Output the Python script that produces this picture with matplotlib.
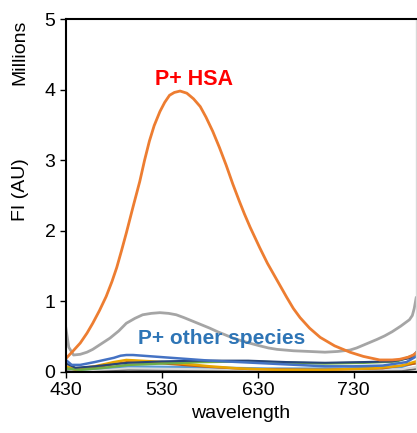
import matplotlib.pyplot as plt

plt.rcParams['font.family'] = ['Liberation Sans', 'DejaVu Sans']

# spettro P+ HSA (arancione)
wl_hsa = [430, 437, 445, 452, 458, 465, 472, 478, 483, 488, 493, 500, 507, 512, 517, 522,
          528, 533, 538, 543, 549, 556, 563, 570, 576, 583, 590, 597, 604, 611, 616, 622,
          632, 640, 650, 660, 667, 674, 684, 695, 710, 726, 740, 757, 770, 778, 787, 792, 795]
fi_hsa = [0.19, 0.29, 0.41, 0.55, 0.69, 0.87, 1.07, 1.28, 1.48, 1.72, 1.97, 2.34, 2.70, 3.00,
          3.27, 3.49, 3.69, 3.82, 3.92, 3.96, 3.98, 3.95, 3.87, 3.76, 3.61, 3.41, 3.18, 2.93,
          2.66, 2.41, 2.24, 2.05, 1.76, 1.54, 1.30, 1.06, 0.90, 0.77, 0.62, 0.49, 0.37, 0.28,
          0.22, 0.17, 0.17, 0.18, 0.21, 0.24, 0.27]

# altre specie
wl_grey = [430, 433, 438, 445, 452, 458, 467, 476, 485, 493, 502, 510, 519, 528, 537, 545,
           553, 562, 571, 580, 588, 597, 604, 611, 621, 632, 641, 650, 667, 684, 700, 713,
           726, 733, 740, 747, 754, 762, 770, 779, 788, 791, 793, 795]
fi_grey = [0.62, 0.35, 0.24, 0.25, 0.28, 0.32, 0.40, 0.48, 0.58, 0.69, 0.76, 0.81, 0.83, 0.84,
           0.83, 0.81, 0.77, 0.72, 0.67, 0.62, 0.57, 0.52, 0.48, 0.45, 0.41, 0.37, 0.34, 0.32,
           0.30, 0.29, 0.28, 0.29, 0.31, 0.34, 0.38, 0.42, 0.46, 0.51, 0.57, 0.65, 0.74, 0.80,
           0.90, 1.05]

wl_blue = [430, 436, 445, 460, 470, 480, 487, 493, 500, 510, 530, 550, 580, 610, 640, 670,
           700, 730, 760, 785, 795]
fi_blue = [0.17, 0.10, 0.10, 0.14, 0.17, 0.20, 0.23, 0.24, 0.24, 0.23, 0.21, 0.19, 0.16, 0.14,
           0.12, 0.10, 0.08, 0.08, 0.09, 0.14, 0.22]

wl_navy = [430, 440, 460, 480, 495, 530, 570, 620, 660, 700, 740, 770, 790, 795]
fi_navy = [0.12, 0.06, 0.08, 0.11, 0.13, 0.15, 0.16, 0.16, 0.14, 0.13, 0.14, 0.15, 0.20, 0.28]

wl_green = [430, 445, 470, 495, 530, 570, 620, 660, 700, 740, 775, 795]
fi_green = [0.05, 0.03, 0.06, 0.10, 0.12, 0.14, 0.15, 0.13, 0.12, 0.13, 0.15, 0.25]

wl_gold = [430, 440, 460, 480, 493, 520, 550, 580, 610, 650, 700, 750, 780, 795]
fi_gold = [0.08, 0.04, 0.08, 0.14, 0.17, 0.15, 0.12, 0.08, 0.05, 0.03, 0.03, 0.05, 0.09, 0.15]

wl_dkor = [430, 440, 460, 480, 493, 520, 550, 580, 620, 700, 760, 795]
fi_dkor = [0.06, 0.03, 0.06, 0.11, 0.14, 0.13, 0.10, 0.07, 0.04, 0.03, 0.05, 0.12]

wl_ltblue = [430, 445, 495, 560, 640, 720, 780, 795]
fi_ltblue = [0.05, 0.03, 0.08, 0.07, 0.05, 0.05, 0.07, 0.13]

wl_ltgrey = [430, 445, 495, 560, 640, 720, 780, 795]
fi_ltgrey = [0.04, 0.02, 0.05, 0.04, 0.03, 0.03, 0.04, 0.07]

wl_dkgrey = [430, 445, 495, 560, 640, 720, 780, 795]
fi_dkgrey = [0.03, 0.01, 0.03, 0.02, 0.01, 0.01, 0.02, 0.04]

xticks = [430, 530, 630, 730]
yticks = [0, 1, 2, 3, 4, 5]

fig = plt.figure(figsize=(4.17, 4.33), dpi=100)
ax = fig.add_axes([0.158, 0.141, 0.84, 0.815])

ax.plot(wl_dkgrey, fi_dkgrey, color='#636363', lw=1.5)
ax.plot(wl_ltgrey, fi_ltgrey, color='#D9D9D9', lw=1.5)
ax.plot(wl_ltblue, fi_ltblue, color='#5B9BD5', lw=1.5)
ax.plot(wl_dkor, fi_dkor, color='#C55A11', lw=1.5)
ax.plot(wl_gold, fi_gold, color='#E8A400', lw=1.8)
ax.plot(wl_green, fi_green, color='#70AD47', lw=1.8)
ax.plot(wl_navy, fi_navy, color='#264478', lw=1.5)
ax.plot(wl_blue, fi_blue, color='#4472C4', lw=1.8)
ax.plot(wl_grey, fi_grey, color='#A5A5A5', lw=2)
ax.plot(wl_hsa, fi_hsa, color='#ED7D31', lw=2)

ax.text(564, 4.14, 'P+ HSA', color='#FF0000', fontsize=15.5, fontweight='bold',
        ha='center', va='center')
ax.text(592, 0.47, 'P+ other species', color='#2E75B6', fontsize=15, fontweight='bold',
        ha='center', va='center')

ax.set_xlim(430, 795)
ax.set_ylim(0, 5)
ax.set_xticks(xticks)
ax.set_yticks(yticks)
ax.tick_params(labelsize=14, direction='out', length=4, width=1)
ax.set_xlabel('wavelength', fontsize=14)

for s in ['left', 'bottom', 'top']:
    ax.spines[s].set_color('black')
    ax.spines[s].set_linewidth(1.5)
ax.spines['right'].set_color('#D9D9D9')
ax.spines['right'].set_linewidth(1)

fig.text(0.048, 0.88, 'Millions', rotation=90, fontsize=14, ha='center', va='center')
fig.text(0.048, 0.561, 'FI (AU)', rotation=90, fontsize=14, ha='center', va='center')

plt.savefig('out.png', dpi=100)
